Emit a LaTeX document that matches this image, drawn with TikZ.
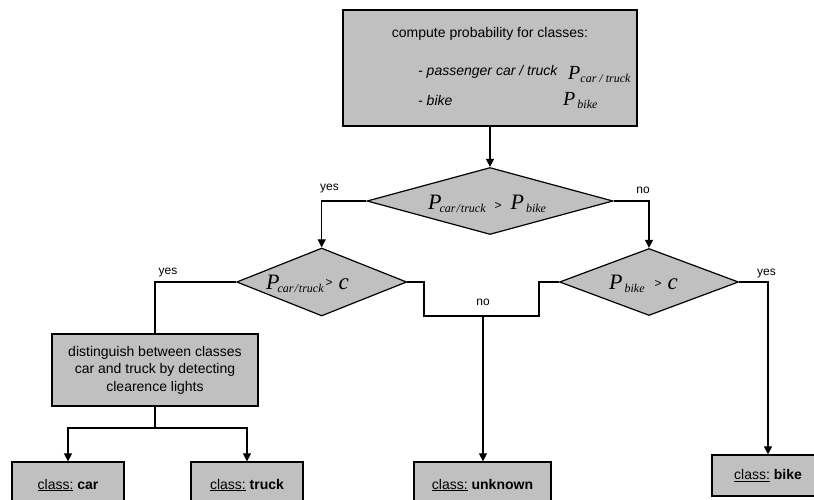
\documentclass[tikz,border=0pt]{standalone}
\usepackage{fontspec}
\setmainfont{Liberation Sans}
\newfontfamily\tms{Liberation Serif}
\usetikzlibrary{arrows.meta,shapes.geometric}
\definecolor{boxgray}{RGB}{192,192,192}
\newcommand\Pv[3]{{\tms\itshape\fontsize{#1}{#1}\selectfont P}\raisebox{-3pt}{\tms\itshape\fontsize{#2}{#2}\selectfont #3}}
\newcommand\gtsym{{\fontsize{12}{12}\selectfont >}}
\begin{document}
\begin{tikzpicture}[x=1pt,y=-1pt,
  box/.style={draw=black, fill=boxgray, line width=1.2pt, inner sep=0pt, font=\fontsize{14}{17.5}\selectfont, align=center},
  dia/.style={diamond, draw=black, fill=boxgray, line width=1.2pt, inner sep=0pt},
  conn/.style={line width=1.1pt},
  arr/.style={conn, -{Triangle[length=8pt,width=8pt]}},
  lbl/.style={font=\fontsize{12}{12}\selectfont, inner sep=0pt},
  txt/.style={font=\fontsize{14}{17}\selectfont, inner sep=0pt},
  mth/.style={inner sep=0pt}
]
\clip (0,0) rectangle (814,500);
% boxes
\node[box, minimum width=294pt, minimum height=116pt] (top) at (490,68) {};
\node[txt, anchor=base] (t1) at (490,38) {compute probability for classes:};
\node[txt, anchor=base west] (t2) at (418,76) {\itshape - passenger car / truck};
\node[txt, anchor=base west] (t3) at (418,106) {\itshape - bike};
\node[mth, anchor=base west] (p1) at (568,80) {\Pv{20}{12}{car / truck}};
\node[mth, anchor=base west] (p2) at (563,106) {\Pv{20}{12}{\kern2pt bike}};

\node[box, minimum width=206pt, minimum height=72pt] (dist) at (155,370)
  {distinguish between classes\\car and truck by detecting\\clearence lights};
\node[box, minimum width=112pt, minimum height=46pt] (car) at (68,485) {\underline{class:} \textbf{car}};
\node[box, minimum width=112pt, minimum height=46pt] (truck) at (247,485) {\underline{class:} \textbf{truck}};
\node[box, minimum width=137pt, minimum height=46pt] (unk) at (482.5,485) {\underline{class:} \textbf{unknown}};
\node[box, minimum width=112pt, minimum height=41pt] (bike) at (768,475.5) {\underline{class:} \textbf{bike}};

% diamonds
\node[dia, minimum width=246pt, minimum height=67pt] (d1) at (490,201) {};
\node[dia, minimum width=170pt, minimum height=68pt] (d2) at (321.7,282) {};
\node[dia, minimum width=179pt, minimum height=67pt] (d3) at (649,282) {};
\node[mth, anchor=base west] (m1) at (428,209)
  {\Pv{22}{12}{\kern-2pt car\kern1pt/\kern1pt truck}\kern9pt\gtsym\kern9pt\Pv{22}{12}{\kern2pt bike}};
\node[mth, anchor=base west] (m2) at (266,289)
  {\Pv{22}{12}{\kern-2pt car\kern1pt/\kern1pt truck}\kern2pt\raisebox{3pt}{\gtsym}\kern6pt{\tms\itshape\fontsize{23}{23}\selectfont c}};
\node[mth, anchor=base west] (m3) at (609,289)
  {\Pv{22}{12}{\kern2pt bike}\kern10pt\raisebox{2pt}{\gtsym}\kern6pt{\tms\itshape\fontsize{23}{23}\selectfont c}};

% labels
\node[lbl] (y1) at (329.5,189) {yes};
\node[lbl] (n1) at (643,190) {no};
\node[lbl] (y2) at (168,273) {yes};
\node[lbl] (n2) at (483,302) {no};
\node[lbl] (y3) at (766.5,274) {yes};

% connectors
\coordinate (j1) at (424,316);
\coordinate (j2) at (539,316);
\coordinate (j3) at (483,316);
\coordinate (b1) at (768,282);
\coordinate (s1) at (155,428);
\draw[arr] (top.south) -- (d1.north);
\draw[arr] (d1.west) -| (d2.north);
\draw[arr] (d1.east) -| (d3.north);
\draw[conn] (d2.west) -| (dist.north);
\draw[conn] (d2.east) -| (j1) -- (j2) |- (d3.west);
\draw[arr] (j3) -- (j3 |- unk.north);
\draw[arr] (d3.east) -- (b1) -- (bike.north);
\draw[conn] (dist.south) -- (s1);
\draw[arr] (s1) -| (car.north);
\draw[arr] (s1) -| (truck.north);
\end{tikzpicture}
\end{document}
